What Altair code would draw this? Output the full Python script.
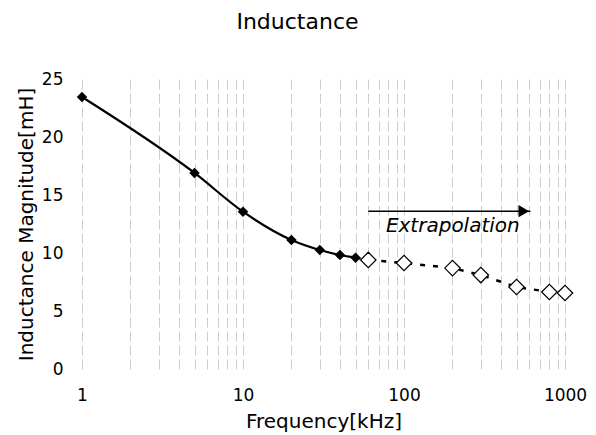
import altair as alt
import pandas as pd

# Measured (filled diamonds) and extrapolated (hollow diamonds) values
meas_f = [1, 5, 10, 20, 30, 40, 50]
meas_L = [23.45, 16.9, 13.56, 11.12, 10.26, 9.83, 9.6]
ext_f = [60, 100, 200, 300, 500, 800, 1000]
ext_L = [9.4, 9.14, 8.7, 8.1, 7.07, 6.64, 6.55]

# axis ticks / grid positions
grid_vals = [1, 2, 3, 4, 5, 6, 7, 8, 9, 10, 20, 30, 40, 50, 60, 70, 80, 90,
             100, 200, 300, 400, 500, 600, 700, 800, 900, 1000]
x_labels = [1, 10, 100, 1000]
y_ticks = [0, 5, 10, 15, 20, 25]

# annotation
arrow_f = [60, 610]
arrow_L = [13.6, 13.6]
arrow_head_f = [555]
annot_text = ["Extrapolation"]
annot_f = [201]
annot_L = [11.8]

FONT = "DejaVu Sans"

meas = pd.DataFrame({"f": meas_f, "L": meas_L})
ext = pd.DataFrame({"f": ext_f, "L": ext_L})
dash_df = pd.DataFrame({"f": [meas_f[-1]] + ext_f, "L": [meas_L[-1]] + ext_L})
arrow = pd.DataFrame({"f": arrow_f, "L": arrow_L})
head = pd.DataFrame({"f": arrow_head_f, "L": arrow_L[:1]})
annot = pd.DataFrame({"f": annot_f, "L": annot_L, "t": annot_text})

label_list = ",".join(str(v) for v in x_labels)

xenc = alt.X(
    "f:Q",
    scale=alt.Scale(type="log", domain=[1, 1000], nice=False),
    axis=alt.Axis(
        title="Frequency[kHz]",
        values=grid_vals,
        format="d",
        labelExpr=f"indexof([{label_list}], datum.value) >= 0 ? datum.label : ''",
        labelOverlap=False,
        labelFlush=False,
        grid=True,
        gridColor="#cccccc",
        gridDash=[10, 4],
        gridWidth=1,
        ticks=False,
        domain=False,
        labelPadding=18,
        titlePadding=8,
    ),
)
yenc = alt.Y(
    "L:Q",
    scale=alt.Scale(domain=[0, 25], nice=False),
    axis=alt.Axis(
        title="Inductance Magnitude[mH]",
        values=y_ticks,
        grid=False,
        ticks=False,
        domain=False,
        labelPadding=19,
        titlePadding=5,
    ),
)

solid = alt.Chart(meas).mark_line(color="black", strokeWidth=2.2, interpolate="monotone").encode(x=xenc, y=yenc)
dashed = alt.Chart(dash_df).mark_line(color="black", strokeWidth=2.5, strokeDash=[5, 8]).encode(x="f:Q", y="L:Q")
filled = alt.Chart(meas).mark_point(shape="diamond", filled=True, color="black", size=110, opacity=1).encode(x="f:Q", y="L:Q")
hollow = alt.Chart(ext).mark_point(shape="diamond", filled=True, fill="white", stroke="black", strokeWidth=1.2, size=240, opacity=1).encode(x="f:Q", y="L:Q")
arr = alt.Chart(arrow).mark_line(color="black", strokeWidth=1.6).encode(x="f:Q", y="L:Q")
arrhead = alt.Chart(head).mark_point(shape="triangle-right", filled=True, color="black", size=150, opacity=1).encode(x="f:Q", y="L:Q")
txt = alt.Chart(annot).mark_text(font=FONT, fontSize=20, fontStyle="italic", align="center", baseline="alphabetic", color="black").encode(x="f:Q", y="L:Q", text="t:N")

chart = alt.layer(solid, dashed, arr, arrhead, filled, hollow, txt).properties(
    width=483,
    height=290,
    padding={"left": 74, "top": 71, "right": 23, "bottom": 63},
    autosize=alt.AutoSizeParams(type="none"),
    title=alt.TitleParams("Inductance", font=FONT, fontSize=22, fontWeight="normal", color="black", dx=-26, offset=36),
).configure_view(stroke=None).configure_axis(
    labelFont=FONT, labelFontSize=17, labelColor="black",
    titleFont=FONT, titleFontSize=20, titleFontWeight="normal", titleColor="black",
)

chart.save("out.html", embed_options={"renderer": "svg", "actions": False})
